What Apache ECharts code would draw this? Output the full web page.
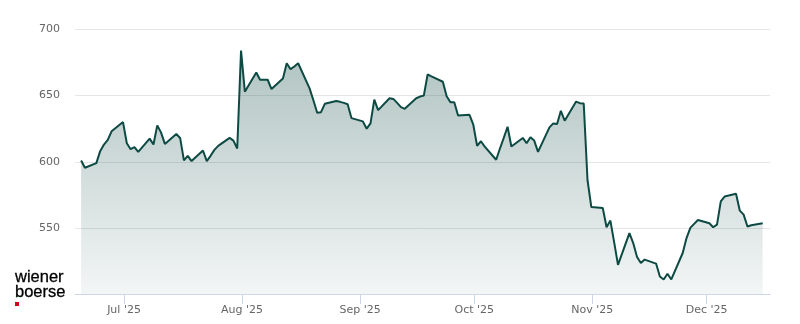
<!DOCTYPE html>
<html>
<head>
<meta charset="utf-8">
<script src="https://cdn.jsdelivr.net/npm/echarts@6/dist/echarts.min.js"></script>
<style>
  html, body { margin: 0; padding: 0; background: #ffffff; }
  #chart { width: 800px; height: 324px; }
</style>
</head>
<body>
<div id="chart"></div>
<script>
// Trading dates (YYYY-MM-DD) and closing prices
var dates = [
  '2025-06-19','2025-06-20','2025-06-23','2025-06-24','2025-06-25','2025-06-26','2025-06-27','2025-06-30',
  '2025-07-01','2025-07-02','2025-07-03','2025-07-04','2025-07-07','2025-07-08','2025-07-09','2025-07-10','2025-07-11',
  '2025-07-14','2025-07-15','2025-07-16','2025-07-17','2025-07-18','2025-07-21','2025-07-22','2025-07-23','2025-07-24','2025-07-25',
  '2025-07-28','2025-07-29','2025-07-30','2025-07-31','2025-08-01',
  '2025-08-04','2025-08-05','2025-08-06','2025-08-07','2025-08-08','2025-08-11','2025-08-12','2025-08-13','2025-08-14','2025-08-15',
  '2025-08-18','2025-08-19','2025-08-20','2025-08-21','2025-08-22','2025-08-25','2025-08-26','2025-08-27','2025-08-28','2025-08-29',
  '2025-09-01','2025-09-02','2025-09-03','2025-09-04','2025-09-05','2025-09-08','2025-09-09','2025-09-10','2025-09-11','2025-09-12',
  '2025-09-15','2025-09-16','2025-09-17','2025-09-18','2025-09-19','2025-09-22','2025-09-23','2025-09-24','2025-09-25','2025-09-26',
  '2025-09-29','2025-09-30','2025-10-01','2025-10-02','2025-10-03','2025-10-06','2025-10-07','2025-10-08','2025-10-09','2025-10-10',
  '2025-10-13','2025-10-14','2025-10-15','2025-10-16','2025-10-17','2025-10-20','2025-10-21','2025-10-22','2025-10-23','2025-10-24',
  '2025-10-27','2025-10-28','2025-10-29','2025-10-30','2025-10-31','2025-11-03','2025-11-04','2025-11-05','2025-11-06','2025-11-07',
  '2025-11-10','2025-11-11','2025-11-12','2025-11-13','2025-11-14','2025-11-17','2025-11-18','2025-11-19','2025-11-20','2025-11-21',
  '2025-11-24','2025-11-25','2025-11-26','2025-11-27','2025-11-28','2025-12-01','2025-12-02','2025-12-03','2025-12-04','2025-12-05',
  '2025-12-08','2025-12-09','2025-12-10','2025-12-11','2025-12-12','2025-12-15'
];
var prices = [
  601, 595.5, 599, 608, 613, 616.5, 623, 630,
  614, 609.5, 611, 607.5, 617.5, 613, 627.5, 622, 613.5,
  621, 618, 601, 604.5, 600.5, 608.5, 600.5, 604.5, 609, 612,
  618, 616, 610, 684, 653,
  667.5, 662, 662, 662, 655, 663, 674.5, 670, 672, 674.5,
  655.5, 646.5, 637, 637.5, 643.8, 646, 645.3, 644.5, 643.5, 633,
  630.5, 625, 629, 647, 639, 648, 647.5, 644.5, 641.3, 640,
  648, 649.3, 650, 666, 664.5, 660.5, 649.5, 645, 645, 635,
  635.5, 628, 612, 615.5, 611.5, 601.5, 610, 618, 626.5, 611.5,
  618, 614, 618.5, 616, 607.5, 626, 629, 628.5, 638.5, 631,
  645.5, 644.3, 644, 586, 565.7, 565, 550.5, 555.5, 539, 522,
  546, 538.5, 528, 523.5, 526, 523, 513.3, 511, 515.3, 511,
  531, 542.3, 550, 553, 556, 553.5, 550.5, 552.5, 570, 573.7,
  575.8, 563, 560, 551, 552, 553.5
];
var yTicks = [500, 550, 600, 650, 700];
var monthNames = ['Jan','Feb','Mar','Apr','May','Jun','Jul','Aug','Sep','Oct','Nov','Dec'];

// closing time of day (hours) attached to each trading date
var closeHour = 17.6;
var seriesData = dates.map(function (d, i) {
  var p = d.split('-');
  var t = Date.UTC(+p[0], +p[1] - 1, +p[2]) + closeHour * 3600 * 1000;
  return [t, prices[i]];
});

var chart = echarts.init(document.getElementById('chart'), null, { renderer: 'canvas' });
var option = {
  useUTC: true,
  animation: false,
  backgroundColor: '#ffffff',
  grid: { left: 75, right: 30, top: 29.5, bottom: 30, containLabel: false },
  xAxis: {
    type: 'time',
    min: Date.UTC(2025, 5, 18, 3, 1),
    max: Date.UTC(2025, 11, 17, 15, 45),
    splitNumber: 6,
    axisLine: { show: true, lineStyle: { color: '#ccd6eb', width: 1 } },
    axisTick: { show: true, length: 10, lineStyle: { color: '#ccd6eb', width: 1 } },
    splitLine: { show: false },
    axisLabel: {
      color: '#666666',
      fontSize: 11,
      fontFamily: 'DejaVu Sans',
      margin: 11,
      hideOverlap: false,
      formatter: function (v) {
        var d = new Date(v);
        return monthNames[d.getUTCMonth()] + " '" + String(d.getUTCFullYear()).slice(2);
      }
    }
  },
  yAxis: {
    type: 'value',
    min: yTicks[0],
    max: yTicks[yTicks.length - 1],
    interval: yTicks[1] - yTicks[0],
    axisLine: { show: false },
    axisTick: { show: false },
    splitLine: { show: true, lineStyle: { color: '#e6e6e6', width: 1 } },
    axisLabel: {
      color: '#666666',
      fontSize: 11,
      fontFamily: 'DejaVu Sans',
      margin: 15,
      padding: [6, 0, 0, 0],
      showMinLabel: false
    }
  },
  series: [{
    type: 'line',
    data: seriesData,
    showSymbol: false,
    symbol: 'none',
    lineStyle: { color: '#0e4a44', width: 2 },
    itemStyle: { color: '#0e4a44' },
    areaStyle: {
      origin: 'start',
      opacity: 1,
      color: new echarts.graphic.LinearGradient(0, 0, 0, 1, [
        { offset: 0, color: 'rgba(14,74,68,0.33)' },
        { offset: 1, color: 'rgba(14,74,68,0.05)' }
      ])
    }
  }],
  graphic: [
    { type: 'text', x: 15, y: 277, style: { text: 'wiener', fill: '#000000', font: '16.5px "Liberation Sans", Arial, sans-serif', verticalAlign: 'middle', stroke: '#000000', lineWidth: 0.3 } },
    { type: 'text', x: 15, y: 292, style: { text: 'boerse', fill: '#000000', font: '16.5px "Liberation Sans", Arial, sans-serif', verticalAlign: 'middle', stroke: '#000000', lineWidth: 0.3 } },
    { type: 'rect', shape: { x: 15, y: 302, width: 4, height: 4 }, style: { fill: '#d0021b' } }
  ]
};
chart.setOption(option);
</script>
</body>
</html>
